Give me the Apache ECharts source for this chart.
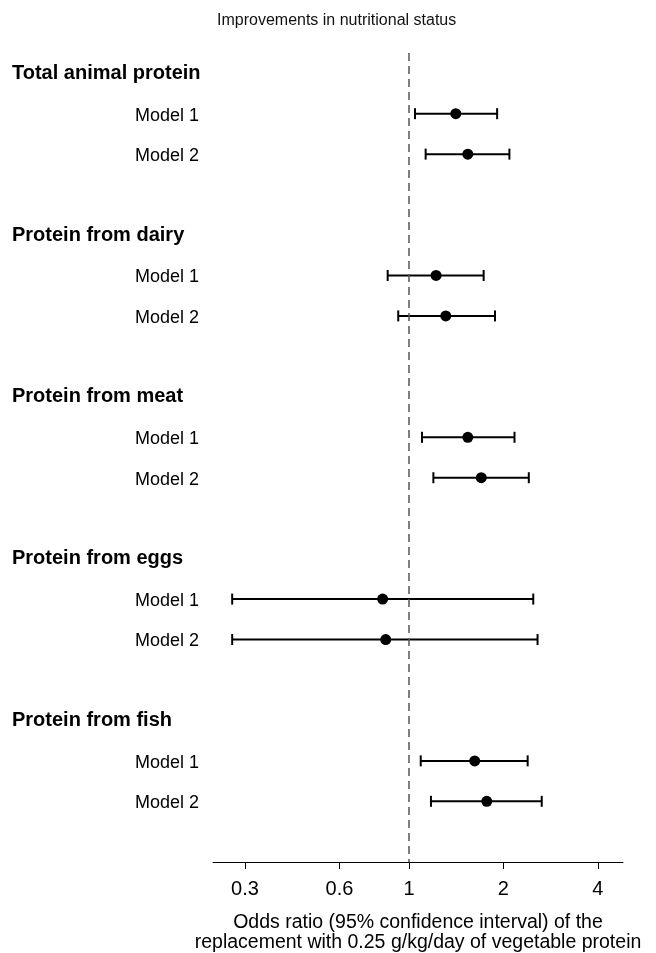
<!DOCTYPE html>
<html>
<head>
<meta charset="utf-8">
<script src="https://cdn.jsdelivr.net/npm/echarts@6/dist/echarts.min.js"></script>
<style>
  html, body { margin: 0; padding: 0; background: #fff; }
  #chart { width: 656px; height: 953px; }
</style>
</head>
<body>
<div id="chart"></div>
<script>
// groups and models, top to bottom
var groups = ["Total animal protein", "Protein from dairy", "Protein from meat", "Protein from eggs", "Protein from fish"];
var models = ["Model 1", "Model 2"];

// odds ratio and 95% CI, one per group/model pair
var oddsRatio = [1.41, 1.54, 1.22, 1.31, 1.54, 1.70, 0.824, 0.843, 1.62, 1.77];
var lowerCI   = [1.045, 1.13, 0.855, 0.924, 1.10, 1.196, 0.273, 0.273, 1.09, 1.175];
var upperCI   = [1.91, 2.09, 1.73, 1.88, 2.17, 2.41, 2.49, 2.57, 2.39, 2.65];

var tickLabels = [0.3, 0.6, 1, 2, 4];

var FONT = "Liberation Sans, Arial, Helvetica, sans-serif";

// rows: header, model 1, model 2, blank
var rowLabels = [];
var rowKind = [];
var ciData = [];
var pointData = [];
groups.forEach(function (g, gi) {
  rowLabels.push(g); rowKind.push("h");
  models.forEach(function (m, mi) {
    var k = gi * models.length + mi;
    var row = rowLabels.length;
    rowLabels.push(m); rowKind.push("m");
    ciData.push([Math.log10(lowerCI[k]), Math.log10(upperCI[k]), row]);
    pointData.push([Math.log10(oddsRatio[k]), row]);
  });
  rowLabels.push(""); rowKind.push("b");
});

var labelRows = [];
rowLabels.forEach(function (l, i) { if (l) labelRows.push(i); });

var logTicks = tickLabels.map(function (v) { return Math.log10(v); });

var chart = echarts.init(document.getElementById("chart"));

var option = {
  animation: false,
  backgroundColor: "#fff",
  title: {
    text: "Improvements in nutritional status",
    left: 212,
    top: 8,
    textStyle: { fontFamily: FONT, fontSize: 16, fontWeight: "normal", color: "#111" }
  },
  grid: { left: 213, right: 33, top: 53, bottom: 91, outerBoundsMode: "none", containLabel: false },
  xAxis: {
    type: "value",
    min: -0.625,
    max: 0.6824,
    name: "Odds ratio (95% confidence interval) of the\nreplacement with 0.25 g/kg/day of vegetable protein",
    nameLocation: "middle",
    nameGap: 51,
    nameTextStyle: { fontFamily: FONT, fontSize: 19.5, color: "#000", lineHeight: 20 },
    axisLine: { onZero: false, lineStyle: { color: "#000", width: 1 } },
    axisTick: { customValues: logTicks, length: 7, lineStyle: { color: "#000" } },
    axisLabel: {
      customValues: logTicks,
      margin: 17,
      fontFamily: FONT,
      fontSize: 20,
      color: "#000",
      formatter: function (v) { return String(+Math.pow(10, v).toPrecision(2)); }
    },
    splitLine: { show: false }
  },
  yAxis: {
    type: "value",
    inverse: true,
    min: -0.5,
    max: rowLabels.length - 0.5,
    axisLine: { show: false },
    axisTick: { show: false },
    splitLine: { show: false },
    axisLabel: {
      customValues: labelRows,
      align: "left",
      margin: 201,
      formatter: function (v) {
        var i = Math.round(v);
        if (rowKind[i] === "h") return "{h|" + rowLabels[i] + "}";
        if (rowKind[i] === "m") return "{m|" + rowLabels[i] + "}";
        return "";
      },
      rich: {
        h: { fontFamily: FONT, fontSize: 20, fontWeight: "bold", color: "#000" },
        m: { fontFamily: FONT, fontSize: 18, color: "#000", padding: [4, 0, 0, 123] }
      }
    }
  },
  series: [
    {
      type: "custom",
      data: ciData,
      encode: { x: [0, 1], y: 2 },
      renderItem: function (params, api) {
        var a = api.coord([api.value(0), api.value(2)]);
        var b = api.coord([api.value(1), api.value(2)]);
        var cap = 5.5;
        var style = { stroke: "#000", lineWidth: 2 };
        return {
          type: "group",
          children: [
            { type: "line", shape: { x1: a[0], y1: a[1], x2: b[0], y2: b[1] }, style: style },
            { type: "line", shape: { x1: a[0], y1: a[1] - cap, x2: a[0], y2: a[1] + cap }, style: style },
            { type: "line", shape: { x1: b[0], y1: b[1] - cap, x2: b[0], y2: b[1] + cap }, style: style }
          ]
        };
      },
      z: 2
    },
    {
      type: "scatter",
      data: pointData,
      symbol: "circle",
      symbolSize: 11,
      itemStyle: { color: "#000", opacity: 1 },
      markLine: {
        silent: true,
        symbol: "none",
        label: { show: false },
        lineStyle: { color: "#555", type: [8, 5], width: 1.5 },
        data: [{ xAxis: 0 }]
      },
      z: 3
    }
  ]
};

chart.setOption(option);
</script>
</body>
</html>
